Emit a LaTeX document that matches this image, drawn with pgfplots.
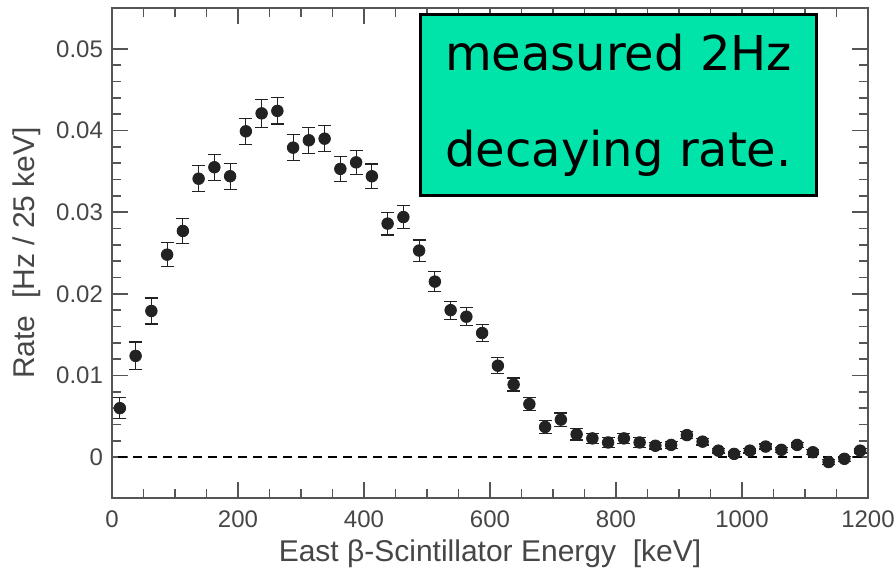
\documentclass[border=0pt]{standalone}
\usepackage{pgfplots}
\pgfplotsset{compat=1.18}
\usepackage{pgfplotstable}
\usepackage{fontspec}
\setmainfont{Liberation Sans}
\newfontfamily\boxfont{DejaVu Sans}
\definecolor{boxgreen}{RGB}{0,228,170}
\definecolor{axgray}{RGB}{85,85,85}
\definecolor{txtgray}{RGB}{70,70,70}
\definecolor{pt}{RGB}{34,34,34}
\pgfplotstableread{
x y e
12.5 0.0060 0.0013
37.5 0.0124 0.0017
62.5 0.0179 0.0016
87.5 0.0248 0.0015
112.5 0.0277 0.0015
137.5 0.0341 0.0016
162.5 0.0355 0.0016
187.5 0.0344 0.0016
212.5 0.0399 0.0016
237.5 0.0421 0.0017
262.5 0.0424 0.0016
287.5 0.0379 0.0016
312.5 0.0388 0.0016
337.5 0.0390 0.0016
362.5 0.0353 0.0015
387.5 0.0361 0.0015
412.5 0.0344 0.0015
437.5 0.0286 0.0014
462.5 0.0294 0.0014
487.5 0.0253 0.0013
512.5 0.0215 0.0012
537.5 0.0180 0.0011
562.5 0.0172 0.0011
587.5 0.0152 0.0010
612.5 0.0112 0.0010
637.5 0.0089 0.0008
662.5 0.0065 0.0008
687.5 0.0037 0.0008
712.5 0.0046 0.0008
737.5 0.0028 0.0007
762.5 0.0023 0.0006
787.5 0.0018 0.0006
812.5 0.0023 0.0006
837.5 0.0018 0.0006
862.5 0.0014 0.0004
887.5 0.0015 0.0004
912.5 0.0027 0.0004
937.5 0.0019 0.0004
962.5 0.0008 0.0003
987.5 0.0004 0.0003
1012.5 0.0008 0.0003
1037.5 0.0013 0.0003
1062.5 0.0009 0.0003
1087.5 0.0015 0.0003
1112.5 0.0006 0.0003
1137.5 -0.0006 0.0003
1162.5 -0.0002 0.0003
1187.5 0.0008 0.0003
}\rate
\begin{document}
\begin{tikzpicture}
\useasboundingbox (-56pt,-40pt) rectangle (392pt,249pt);
\begin{axis}[
  scale only axis,
  width=378pt, height=245pt,
  at={(0,0)}, anchor=south west,
  xmin=0, xmax=1200, ymin=-0.005, ymax=0.055,
  xtick={0,200,...,1200},
  xticklabels={0,200,400,600,800,1000,1200},
  ytick={0,0.01,0.02,0.03,0.04,0.05},
  yticklabels={0,0.01,0.02,0.03,0.04,0.05},
  minor x tick num=3,
  minor y tick num=4,
  tick pos=both, tick align=inside,
  xticklabel pos=bottom, yticklabel pos=left,
  major tick length=8pt, minor tick length=4.5pt,
  axis line style={axgray, line width=0.8pt},
  every tick/.style={axgray, line width=0.8pt},
  /pgf/number format/assume math mode=true,
  ticklabel style={font=\fontsize{12}{14}\selectfont, text=txtgray},
  xticklabel style={yshift=-3pt},
  yticklabel style={xshift=-1pt},
  xlabel={East β-Scintillator Energy~~[keV]},
  ylabel={Rate~~[Hz / 25 keV]},
  label style={font=\fontsize{15}{18}\selectfont, text=txtgray},
  xlabel style={yshift=1pt},
  ylabel style={yshift=1pt},
]
\addplot[black, dashed, line width=1.3pt, dash pattern=on 4.5pt off 3pt] coordinates {(10,0) (1200,0)};
\addplot[only marks, mark=*, mark size=2.9pt, mark options={fill=pt, draw=pt},
  error bars/.cd, y dir=both, y explicit,
  error bar style={line width=0.6pt, color=pt},
  error mark options={rotate=90, mark size=3.2pt, line width=0.6pt, color=pt}]
  table[x=x, y=y, y error=e] {\rate};
\node[draw=black, line width=1.2pt, fill=boxgreen, minimum width=198pt, minimum height=90.5pt,
  inner sep=0pt, align=center, font=\boxfont\fontsize{24}{48}\selectfont]
  at (axis cs:804,0.0431) {measured 2Hz\\decaying rate.};
\end{axis}
\end{tikzpicture}
\end{document}
